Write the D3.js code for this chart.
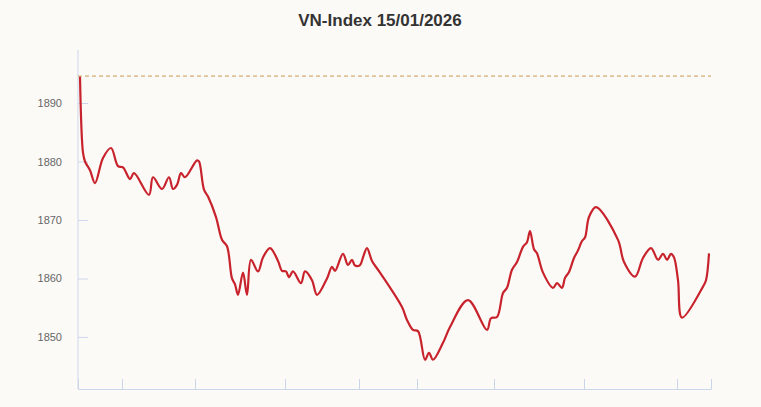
<!DOCTYPE html><html><head><meta charset="utf-8"><script src="https://cdn.jsdelivr.net/npm/d3@7"></script>
<style>body{margin:0;background:#fcfaf7}</style></head><body><svg id="c" width="761" height="407"></svg>
<script>
const title="VN-Index 15/01/2026";
const refLevel=1894.6;
const yTicks=[1850,1860,1870,1880,1890];
const xTicks=[44,117,207,281,339,416,506,599];
const t=[2,5,7,12,17,25,33,40,45,52,56,71,75,84,91,95,99,103,107,119,121,126,130,138,144,149,154,157,160,165,169,173,180,185,192,200,204,208,211,215,223,227,234,239,249,254,257,265,270,274,277,282,285,289,294,302,324,329,335,340,347,351,355,365,372,390,409,413,419,425,429,434,439,445,449,452,456,459,465,475,479,484,487,491,496,500,504,507,511,518,540,546,557,565,573,580,585,589,593,596,600,604,625,628,631];
const v=[1894.5,1881.5,1880,1878.5,1876.3,1880.6,1882.3,1879.2,1879,1877,1878,1874.3,1877.3,1875.3,1877.3,1875.3,1876,1878,1877.3,1880.2,1880,1875.2,1874,1870.5,1866.6,1865.5,1860,1859,1857.2,1861,1857.2,1863.2,1861.2,1863.6,1865.2,1863,1861.3,1861.2,1860.2,1861.2,1859.2,1861.2,1859.7,1857.2,1860,1862,1861.3,1864.2,1862.3,1863.2,1862.2,1862.3,1863.6,1865.2,1863,1861,1855.1,1852.9,1851.2,1851,1846.1,1847.3,1846.1,1849,1851.7,1856.3,1851.2,1853.2,1853.4,1857.5,1858.4,1861.5,1862.8,1865.4,1866.2,1868.1,1865,1864.3,1861,1858.4,1859.2,1858.4,1860.1,1861.1,1863.5,1864.8,1866.4,1867,1870.5,1872.2,1866.6,1862.8,1860.3,1863.5,1865.2,1863.2,1864.2,1863.2,1864.2,1863.6,1859.7,1853.3,1858.6,1859.7,1864.3];
const svg=d3.select("#c");
svg.append("rect").attr("width",761).attr("height",407).attr("fill","#fcfaf7");
const x=d3.scaleLinear().domain([0,633]).range([78,711]);
const y=d3.scaleLinear().domain([1841.1,1899.06]).range([389,50]);
svg.append("text").attr("x",380).attr("y",26).attr("text-anchor","middle").attr("font-family","Liberation Sans, Arial").attr("font-weight","bold").attr("font-size",17).attr("fill","#333").text(title);
const ya=svg.append("g").attr("transform","translate(78,0)").call(d3.axisLeft(y).tickValues(yTicks).tickSize(-10).tickPadding(16).tickFormat(d3.format("d")));
ya.select(".domain").attr("stroke","#ccd6eb").attr("d","M0,50V389");
ya.selectAll("line").attr("stroke","#ccd6eb");
ya.selectAll("text").attr("font-family","Liberation Sans, Arial").attr("font-size",11).attr("fill","#666");
const xa=svg.append("g").attr("transform","translate(0,389)").call(d3.axisBottom(x).tickValues(xTicks).tickSize(-10).tickFormat(""));
xa.select(".domain").attr("stroke","#ccd6eb");
xa.selectAll("line").attr("stroke","#ccd6eb");
svg.append("line").attr("x1",x(0)).attr("x2",x(633)).attr("y1",y(refLevel)).attr("y2",y(refLevel)).attr("stroke","#c99a50").attr("stroke-dasharray","4,3").attr("stroke-width",1);
const pts=t.map((d,i)=>[d,v[i]]);
svg.append("path").datum(pts).attr("fill","none").attr("stroke","#c8232c").attr("stroke-width",2.2).attr("stroke-linejoin","round").attr("d",d3.line().x(d=>x(d[0])).y(d=>y(d[1])).curve(d3.curveCatmullRom.alpha(0.5)));
</script></body></html>
